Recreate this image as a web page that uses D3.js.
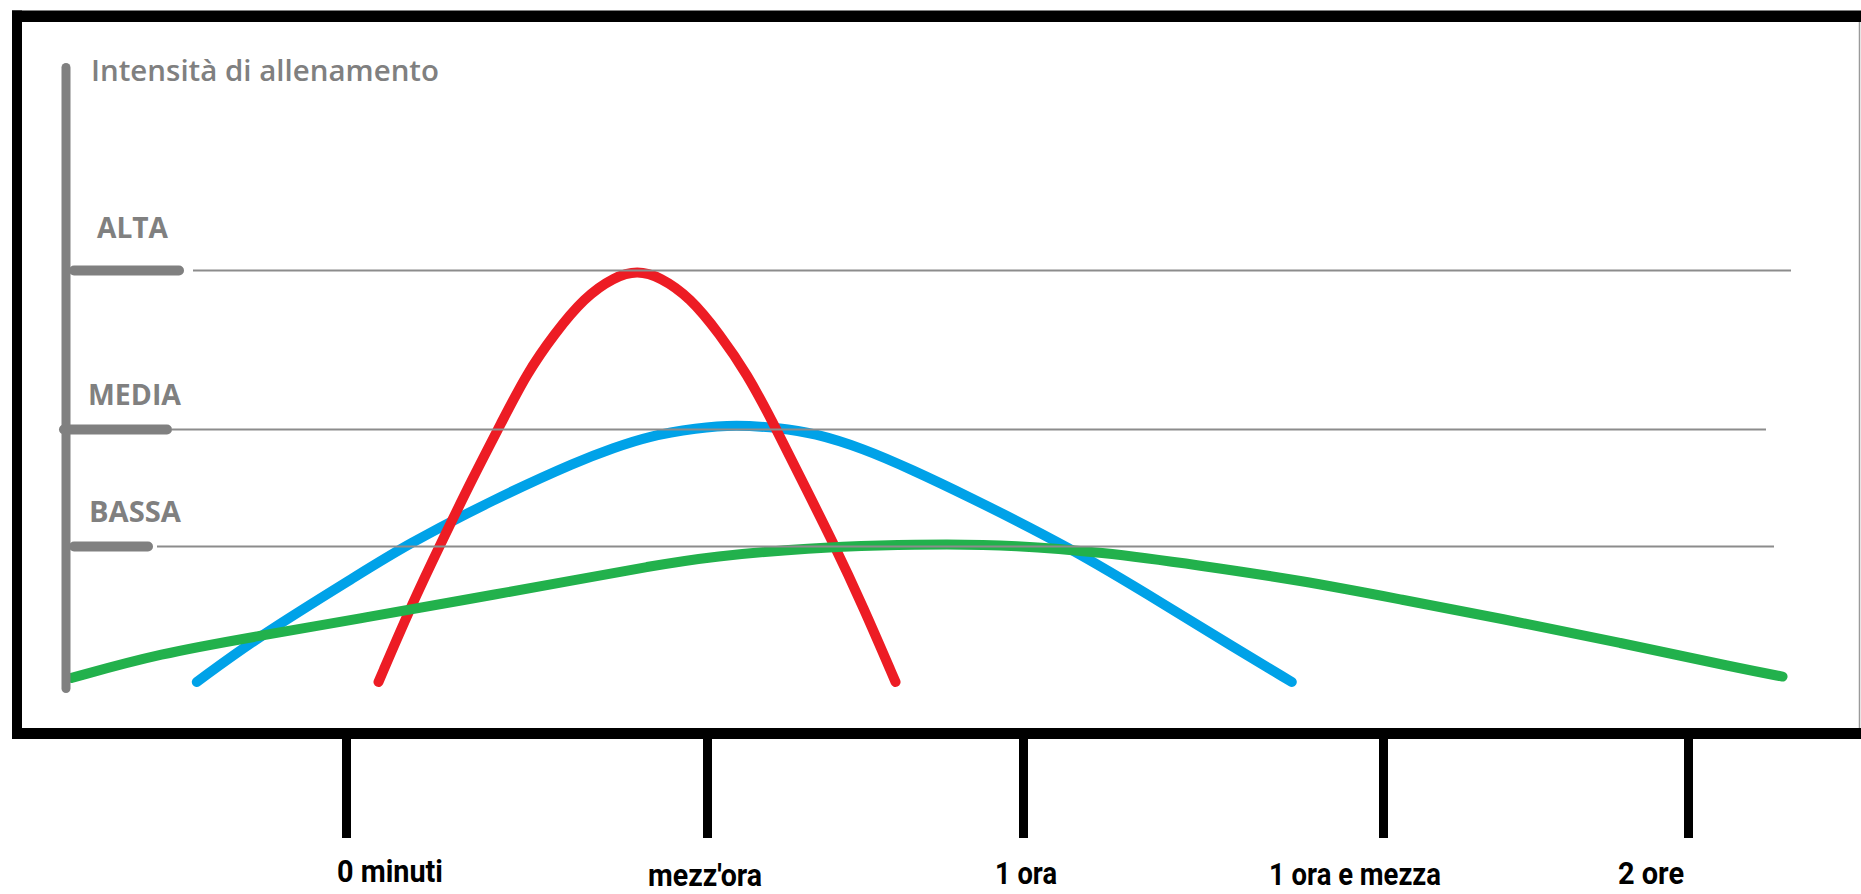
<!DOCTYPE html>
<html>
<head>
<meta charset="utf-8">
<script src="https://cdn.jsdelivr.net/npm/d3@7"></script>
<style>
  html, body { margin: 0; padding: 0; background: #fff; overflow: hidden; }
</style>
</head>
<body>
<svg id="chart" width="1861" height="894"></svg>
<script>
// ---------------- DATA ----------------
const yTitle = "Intensità di allenamento";
const tickMinutes = [0, 30, 60, 90, 120];
const tickLabels = ["0 minuti", "mezz'ora", "1 ora", "1 ora e mezza", "2 ore"];
const levelValues = [3, 2, 1];
const levelLabels = ["ALTA", "MEDIA", "BASSA"];

// [minutes, intensity level]
const redSeries = [[2.7,0],[5.4,0.56],[7.9,1.03],[10.6,1.6],[12.9,2.04],[15.0,2.35],[17.3,2.6],[19.8,2.83],[22.3,2.96],[24.2,3.0],[26.1,2.96],[28.6,2.83],[31.2,2.6],[33.8,2.35],[36.3,2.04],[38.8,1.6],[42.0,1.03],[44.8,0.56],[47.9,0.0]];
const blueSeries = [[-12.4,0],[-7.2,0.34],[1.2,0.8],[4.8,1.0],[12.2,1.4],[19.5,1.74],[22.2,1.84],[25.0,1.94],[29.2,2.01],[32.7,2.03],[36.9,2.01],[40.1,1.97],[44.8,1.84],[49.6,1.65],[54.3,1.45],[63.8,1.0],[72.0,0.56],[77.5,0.26],[82.4,0.0]];
const greenSeries = [[-22.8,0.03],[-15.5,0.21],[-7.2,0.34],[1.2,0.47],[9.5,0.6],[19.5,0.76],[25.0,0.85],[30.6,0.93],[40.1,0.99],[46.4,1.01],[52.8,1.02],[59.1,1.01],[66.4,0.96],[74.8,0.86],[83.1,0.75],[91.7,0.61],[101.5,0.47],[113.3,0.29],[125.1,0.1],[129.3,0.04]];

// ---------------- LAYOUT ----------------
const W = 1861, H = 894;
const svg = d3.select("#chart");
svg.append("rect").attr("width", W).attr("height", H).attr("fill", "#fff");

// hand-drawn tick spacing is uneven: piecewise-linear scales
const x = d3.scaleLinear().domain(tickMinutes).range([346, 707, 1023, 1383, 1688]);
const y = d3.scaleLinear().domain([0, 1, 2, 3]).range([682, 546.5, 429.5, 270.5]);

const GRAY = "#808080";

// frame
const frame = svg.append("g");
frame.append("rect").attr("x", 12).attr("y", 10.5).attr("width", W - 12).attr("height", 11.5).attr("fill", "#000");
frame.append("rect").attr("x", 12).attr("y", 728).attr("width", W - 12).attr("height", 11).attr("fill", "#000");
frame.append("rect").attr("x", 12).attr("y", 10.5).attr("width", 10).attr("height", 728.5).attr("fill", "#000");
frame.append("line").attr("x1", 1859.5).attr("x2", 1859.5).attr("y1", 22).attr("y2", 728)
  .attr("stroke", "#9a9a9a").attr("stroke-width", 1.5);

// curves
const line = d3.line().x(d => x(d[0])).y(d => y(d[1])).curve(d3.curveBasis);
const series = [
  { data: blueSeries, color: "#00a2e8" },
  { data: redSeries, color: "#ed1c24" },
  { data: greenSeries, color: "#22b14c" }
];
svg.append("g").selectAll("path").data(series).join("path")
  .attr("d", s => line(s.data))
  .attr("fill", "none")
  .attr("stroke", s => s.color)
  .attr("stroke-width", 10)
  .attr("stroke-linecap", "round")
  .attr("stroke-linejoin", "round");

// level guides (drawn over the curves, as in the picture)
const levelLayout = [
  { s1: 69, s2: 184, g1: 193, g2: 1791, lx: 97, lw: 71, ldy: -32.5 },
  { s1: 59, s2: 172, g1: 172, g2: 1766, lx: 88, lw: 93, ldy: -24.5 },
  { s1: 69, s2: 153, g1: 157, g2: 1774, lx: 89, lw: 92, ldy: -25 }
];
const lv = svg.append("g");
levelValues.forEach((v, i) => {
  const L = levelLayout[i], yy = y(v);
  lv.append("line").attr("x1", L.g1).attr("x2", L.g2).attr("y1", yy).attr("y2", yy)
    .attr("stroke", "#8c8c8c").attr("stroke-width", 2);
  lv.append("line").attr("x1", L.s1 + 5).attr("x2", L.s2 - 5).attr("y1", yy).attr("y2", yy)
    .attr("stroke", GRAY).attr("stroke-width", 10).attr("stroke-linecap", "round");
  lv.append("text").attr("x", L.lx).attr("y", yy + L.ldy)
    .attr("font-family", "'Open Sans', sans-serif").attr("font-weight", 700)
    .attr("font-size", 29).attr("fill", GRAY)
    .attr("textLength", L.lw).attr("lengthAdjust", "spacingAndGlyphs")
    .text(levelLabels[i]);
});

// vertical axis
svg.append("line").attr("x1", 66).attr("x2", 66).attr("y1", 67.5).attr("y2", 688.5)
  .attr("stroke", GRAY).attr("stroke-width", 9).attr("stroke-linecap", "round");

svg.append("text").attr("x", 91).attr("y", 81)
  .attr("font-family", "'Open Sans', sans-serif").attr("font-weight", 600)
  .attr("font-size", 29).attr("fill", GRAY)
  .attr("textLength", 348).attr("lengthAdjust", "spacingAndGlyphs")
  .text(yTitle);

// x axis ticks below the frame
const xAxis = d3.axisBottom(x).tickValues(tickMinutes).tickSize(99).tickFormat("");
const gx = svg.append("g").attr("transform", "translate(0,739)").call(xAxis);
gx.select(".domain").remove();
gx.selectAll(".tick line").attr("stroke", "#000").attr("stroke-width", 9);

const tickLabelLayout = [
  { dx: -9, w: 106, by: 882 },
  { dx: -59, w: 114, by: 886 },
  { dx: -28, w: 62, by: 884 },
  { dx: -114, w: 172, by: 885 },
  { dx: -70, w: 66, by: 884 }
];
svg.append("g").selectAll("text").data(tickMinutes).join("text")
  .attr("x", (d, i) => x(d) + tickLabelLayout[i].dx)
  .attr("y", (d, i) => tickLabelLayout[i].by)
  .attr("font-family", "Roboto, 'Open Sans', sans-serif").attr("font-weight", 700)
  .attr("font-size", 31).attr("fill", "#000")
  .attr("textLength", (d, i) => tickLabelLayout[i].w).attr("lengthAdjust", "spacingAndGlyphs")
  .text((d, i) => tickLabels[i]);
</script>
</body>
</html>
